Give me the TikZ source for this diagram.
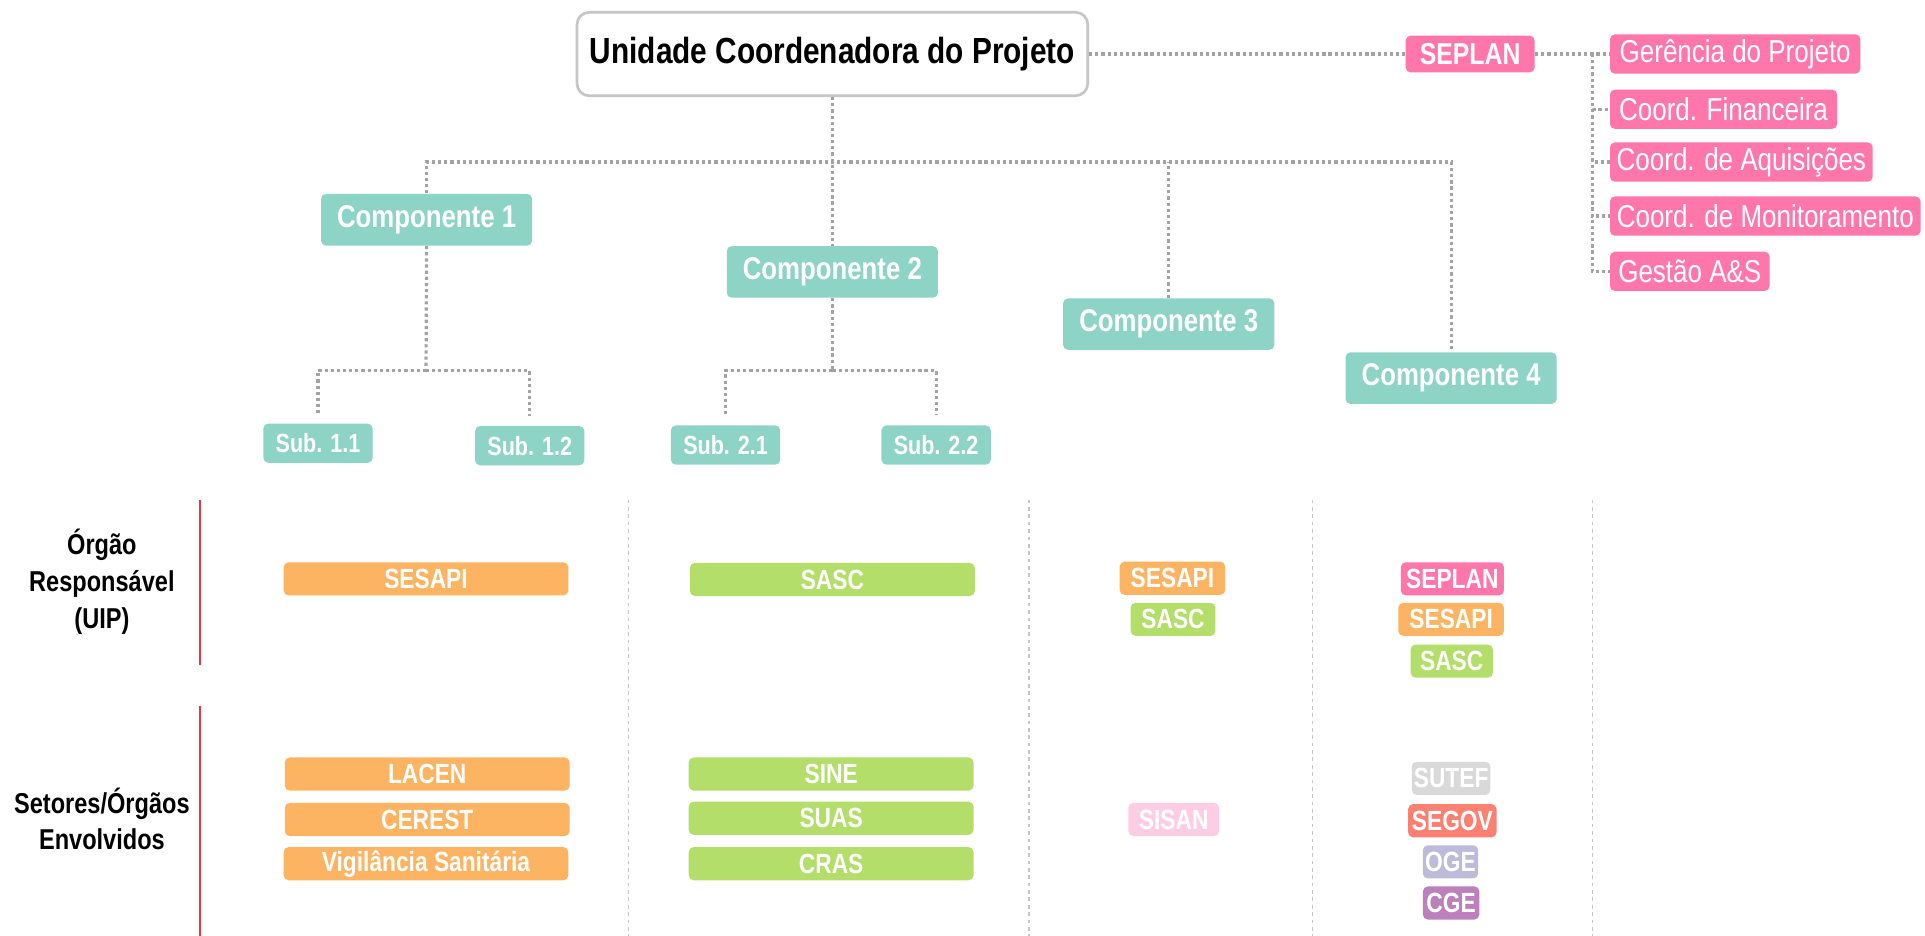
\documentclass[tikz,border=0pt]{standalone}
\usepackage{fontspec}
\setmainfont{Liberation Sans}[FakeStretch=0.82]
\definecolor{cteal}{HTML}{8ED4C6}
\definecolor{cpink}{HTML}{FF77AA}
\definecolor{corange}{HTML}{FDB462}
\definecolor{cgreen}{HTML}{B3DE69}
\definecolor{clpink}{HTML}{FCCDE5}
\definecolor{cgray}{HTML}{D9D9D9}
\definecolor{csalmon}{HTML}{FB8072}
\definecolor{clav}{HTML}{BEBADA}
\definecolor{cpurple}{HTML}{BC80BD}
\definecolor{cline}{HTML}{A3A3A3}
\definecolor{cred}{HTML}{E8383D}
\begin{document}
\begin{tikzpicture}[x=0.5pt,y=-0.5pt,
  box/.style={rounded corners=2pt, inner sep=0pt, text=white, font=\bfseries\fontsize{11.3}{13}\selectfont},
  comp/.style={box, fill=cteal, minimum width=86pt, minimum height=21pt, font=\bfseries\fontsize{12.8}{15}\selectfont},
  subbox/.style={box, fill=cteal, minimum width=44.5pt, minimum height=16pt, font=\bfseries\fontsize{10.7}{13}\selectfont},
  pk/.style={box, fill=cpink, minimum height=16pt, anchor=west, font=\fontsize{12.9}{15}\selectfont},
  bb/.style={box, minimum height=13.5pt},
  conn/.style={draw=cline, line width=1.3pt, dash pattern=on 1.3pt off 1.2pt},
  colline/.style={draw=gray!45, line width=0.6pt, dash pattern=on 1.5pt off 1.5pt},
  lab/.style={align=center, text=black, font=\bfseries\fontsize{11.7}{15}\selectfont}]
\fill[white] (0,0) rectangle (1568,762);
\useasboundingbox (0,0) rectangle (1568,762);

% top
\node[draw=gray!45, line width=1.1pt, fill=white, rounded corners=5pt, minimum width=208pt, minimum height=34pt, inner sep=0pt, font=\bfseries\fontsize{14.8}{17}\selectfont] (uc) at (678,44) {Unidade Coordenadora do Projeto};
\node[box, fill=cpink, minimum width=52.5pt, minimum height=15pt, font=\bfseries\fontsize{12.3}{14}\selectfont] (sp) at (1197.5,44) {SEPLAN};
\node[pk, minimum width=102pt] (g1) at (1311,44) {Gerência do Projeto};
\node[pk, minimum width=92.5pt] (g2) at (1311,89) {Coord. Financeira};
\node[pk, minimum width=107pt] (g3) at (1311,132) {Coord. de Aquisições};
\node[pk, minimum width=126.5pt] (g4) at (1311,176) {Coord. de Monitoramento};
\node[pk, minimum width=65pt] (g5) at (1311,221) {Gestão A\&S};
\coordinate (sv) at (1297,44);
\draw[conn] (uc.east) -- (sp.west);
\draw[conn] (sp.east) -- (g1.west);
\draw[conn] (sv) |- (g2.west);
\draw[conn] (sv) |- (g3.west);
\draw[conn] (sv) |- (g4.west);
\draw[conn] (sv) |- (g5.west);

% components
\node[comp] (c1) at (347.5,179) {Componente 1};
\node[comp] (c2) at (678,221.5) {Componente 2};
\node[comp] (c3) at (952,264) {Componente 3};
\node[comp] (c4) at (1182,308) {Componente 4};
\coordinate (b1) at (347,132);
\coordinate (b4) at (1182,132);
\draw[conn] (uc.south) -- (c2.north);
\draw[conn] (c1.north) |- (b4) -- (c4.north);
\draw[conn] (c3.north) -- (c3.north |- b1);

% subs
\node[subbox] (s11) at (259,361) {Sub. 1.1};
\node[subbox] (s12) at (431.5,363) {Sub. 1.2};
\node[subbox] (s21) at (591,362.5) {Sub. 2.1};
\node[subbox] (s22) at (762.5,362.5) {Sub. 2.2};
\coordinate (j1) at (347,302);
\coordinate (j2) at (678,302);
\draw[conn] (c1.south) -- (j1);
\draw[conn, shorten >=4pt] (j1) -| (s11.north);
\draw[conn, shorten >=4pt] (j1) -| (s12.north);
\draw[conn] (c2.south) -- (j2);
\draw[conn, shorten >=4pt] (j2) -| (s21.north);
\draw[conn, shorten >=4pt] (j2) -| (s22.north);

% bottom grid
\draw[cred, line width=0.6pt] (163,407) -- (163,542);
\draw[cred, line width=0.6pt] (163,575) -- (163,762);
\foreach \xx in {512,838,1069,1297} \draw[colline] (\xx,407) -- (\xx,762);
\node[lab] (l1) at (83,474) {Órgão\\Responsável\\(UIP)};
\node[lab] (l2) at (83,667) {Setores/Órgãos\\Envolvidos};

% column 1
\node[bb, fill=corange, minimum width=116pt] (o1) at (347,471.5) {SESAPI};
\node[bb, fill=corange, minimum width=116pt] (o2) at (348,630.5) {LACEN};
\node[bb, fill=corange, minimum width=116pt] (o3) at (348,667.5) {CEREST};
\node[bb, fill=corange, minimum width=116pt] (o4) at (347,703.5) {Vigilância Sanitária};
% column 2
\node[bb, fill=cgreen, minimum width=116pt] (v1) at (678,472) {SASC};
\node[bb, fill=cgreen, minimum width=116pt] (v2) at (677,630.5) {SINE};
\node[bb, fill=cgreen, minimum width=116pt] (v3) at (677,666.5) {SUAS};
\node[bb, fill=cgreen, minimum width=116pt] (v4) at (677,703.5) {CRAS};
% column 3
\node[bb, fill=corange, minimum width=43pt] (t1) at (955,471) {SESAPI};
\node[bb, fill=cgreen, minimum width=34.5pt] (t2) at (955.5,504.5) {SASC};
\node[bb, fill=clpink, minimum width=37pt] (t3) at (956,667.5) {SISAN};
% column 4
\node[bb, fill=cpink, minimum width=42pt] (f1) at (1183,471.5) {SEPLAN};
\node[bb, fill=corange, minimum width=43pt] (f2) at (1182,504.5) {SESAPI};
\node[bb, fill=cgreen, minimum width=33.5pt] (f3) at (1182.5,538.5) {SASC};
\node[bb, fill=cgray, minimum width=32pt] (f4) at (1182,634) {SUTEF};
\node[bb, fill=csalmon, minimum width=36pt] (f5) at (1183,668.5) {SEGOV};
\node[bb, fill=clav, minimum width=22.5pt] (f6) at (1181.5,702) {OGE};
\node[bb, fill=cpurple, minimum width=23pt] (f7) at (1182,735.5) {CGE};
\end{tikzpicture}
\end{document}
